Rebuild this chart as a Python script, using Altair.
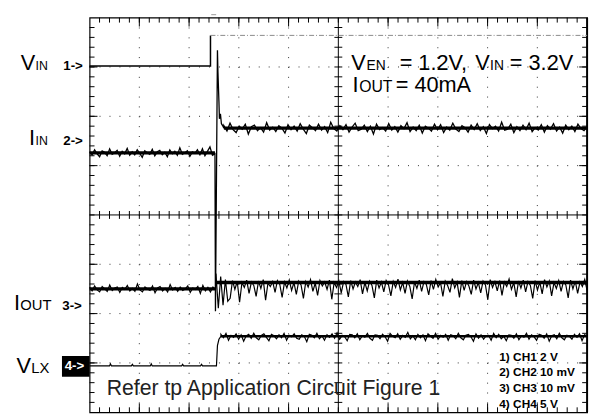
import altair as alt
import pandas as pd
import numpy as np

# ---------------- data (oscilloscope divisions: x 0..10, y 0..8) ----------------
ch1_low, ch1_high, ch1_step_x = 7.02, 7.64, 2.43

ch2_pre_base, ch2_post_base = 5.26, 5.76
ch2_pre_span = [0.0, 2.52]
ch2_post_span = [2.70, 10.0]
ch2_tr_x = [2.52, 2.53, 2.57, 2.58, 2.60, 2.61, 2.63, 2.65, 2.68, 2.70]
ch2_tr_y = [5.26, 2.05, 7.34, 6.90, 6.30, 5.95, 6.05, 5.85, 5.80, 5.76]
# noise in hundredths of a division
ch2_pre_noise = [2, -4, 6, -2, -8, 4, 1, -6, 8, -3, 0, 5, -7, 3, -2, 9, -5, 2, -4, 6, -1, -9, 4, 0, -3, 7,
                 -6, 2, 5, -4, 1, -8, 6, -2, 3, -5, 10, -3, 0, 4, -7, 2, -1, 6, -4, 8, -6, 3, 12, -5, -2]
ch2_post_noise = [5, -6, 10, -3, -9, 4, -2, 8, -12, 3, 6, -5, 1, -8, 11, -4, 2, -7, 5, 0, -10, 7, -3, 4, -6,
                  9, -2, -11, 6, 1, -5, 8, -4, 3, -9, 12, -1, -6, 5, -3, 7, -8, 2, 10, -5, -2, 6, -7, 4, -12,
                  8, -3, 1, -6, 9, -4, 3, -8, 5, -1, 11, -7, 2, -5, 6, -10, 4, 0, -6, 8, -3, 7, -9, 2, -4, 10,
                  -2, -7, 5, 1, -8, 6, -3, 9, -5, 3, -11, 7, -1, 4, -6, 12, -4, -2, 8, -9, 3, -5, 6, -3, 10,
                  -7, 1, -4, 7, -8, 5, -2, 9, -6, 2, -10, 6, -3, 4, -7, 8, -1, -5, 3]

ch3_pre_base, ch3_post_base = 2.50, 2.61
ch3_pre_span = [0.0, 2.53]
ch3_post_span = [2.54, 10.0]
ch3_pre_noise = [3, -4, 6, -2, -6, 5, 0, -5, 8, -3, 2, 4, -7, 3, -1, 7, -4, 1, -5, 10, -2, -6, 4, 0, -3, 6,
                 -8, 2, 5, -4, 1, -6, 9, -2, 3, -5, 4, -3, 0, 6, -7, 2, -1, 5, -9, 7, -4, 3, -6, 4, -2]
ch3_post_noise = [20, -50, 14, -44, 8, -36, -30, 6, -12, 4, -38, 2, -8, 7, -20, 3, -4, -26, 5, -10, 8, -34,
                  1, -6, 4, -18, 6, -2, -28, 3, -9, 7, -14, 2, -22, 5, -3, -30, 4, -7, 8, -16, 1, -24, 6, -5,
                  3, -12, 7, -32, 2, -8, 5, -19, 4, -2, -27, 6, -11, 3, -6, 8, -21, 2, -15, 5, -4, -29, 7, -9,
                  3, -17, 6, -3, -25, 4, -8, 9, -13, 2, -20, 5, -6, -31, 3, -10, 7, -16, 4, -2, -23, 6, -12, 8,
                  -7, 2, -26, 5, -4, -18, 10, -9, 3, -28, 6, -14, 4, -5, -22, 7, -11, 2, -19, 5, -3, -33, 8,
                  -8, 4, -15, 6, -24, 3, -6, 9, -12, 2, -27, 5, -9, 7, -17, 4, -4, -30, 6, -13, 3, -21, 8, -7,
                  5, -25, 2, -10, 6, -16, 4, -3, -29, 7, -11, 5, -20, 3, -6, 8, -14]

ch4_pre_base, ch4_post_base = 0.94, 1.54
ch4_pre_x = [0.0, 0.40, 0.42, 0.44, 0.84, 0.86, 0.88, 1.22, 1.24, 1.26, 1.85, 1.87, 1.89, 2.23, 2.25, 2.27, 2.55]
ch4_pre_bump = [0, 0, 4, 0, 0, 3, 0, 0, 4, 0, 0, 3, 0, 0, 3, 0, 0]
ch4_tr_x = [2.55, 2.57, 2.60, 2.64]
ch4_tr_y = [0.94, 1.35, 1.48, 1.54]
ch4_post_span = [2.64, 10.0]
ch4_post_noise = [4, -3, 6, -8, 2, -2, 5, -6, 3, -10, 1, 4, -4, 6, -3, -7, 2, 5, -2, -9, 4, 1, -5, 3, -3, 6,
                  -8, 2, -1, 5, -4, -6, 3, 0, -11, 4, 2, -3, 6, -5, 1, -8, 3, -2, 5, -4, 7, -6, 2, -1, -9, 4,
                  3, -3, 5, -7, 1, -2, 6, -4, -8, 3, 2, -5, 4, -1, -10, 6, 0, -3, 5, -6, 2, -2, 8, -5, 1, -7,
                  4, -3, 3, -9, 5, 0, -4, 6, -6, 2, -2, 4, -8, 3, 1, -5, 6, -3, -7, 2, 4, -1, -10, 5, -4, 3,
                  -6, 1, 2, -8, 6, -3, 4, -5, 0, -9, 3, 2, -4, 5, -7, 1, -2, 6, -6, 3, -1, -8, 4, 2, -4, 5,
                  -10, 1, 3, -5, 6, -3, -7, 2, 0, -6, 4, -2, 5, -9, 3, 1]

# ---------------- layout ----------------
W, H = 504.3, 400.0
LEFT, TOP = 90.7, 15.0   # page position of the plot origin
FONT = "Liberation Sans"

XS = alt.Scale(domain=[0, 10], nice=False, zero=False)
YS = alt.Scale(domain=[0, 8], nice=False, zero=False)


def seg(span, base, noise):
    xs = np.linspace(span[0], span[1], len(noise))
    return list(xs), [base + n / 100.0 for n in noise]


def line_df(xs, ys):
    return pd.DataFrame({"x": xs, "y": ys, "i": range(len(xs))})


def trace(df, color="black", width=1.3, dash=None):
    kw = dict(color=color, strokeWidth=width, strokeJoin="miter")
    if dash:
        kw["strokeDash"] = dash
    return alt.Chart(df).mark_line(**kw).encode(
        x=alt.X("x:Q", scale=XS, axis=None),
        y=alt.Y("y:Q", scale=YS, axis=None),
        order="i:Q",
    )


def band(span, base, width=3.2):
    return trace(line_df(list(span), [base, base]), width=width)


# CH1
ch1_a = line_df([0, ch1_step_x, ch1_step_x], [ch1_low, ch1_low, ch1_high])
ch1_b = line_df([ch1_step_x, 10], [ch1_high, ch1_high])
# CH2
x1, y1 = seg(ch2_pre_span, ch2_pre_base, ch2_pre_noise)
x2, y2 = seg(ch2_post_span, ch2_post_base, ch2_post_noise)
ch2 = line_df(x1 + ch2_tr_x + x2, y1 + ch2_tr_y + y2)
# CH3
x1, y1 = seg(ch3_pre_span, ch3_pre_base, ch3_pre_noise)
x2, y2 = seg(ch3_post_span, ch3_post_base, ch3_post_noise)
ch3 = line_df(x1 + x2, y1 + y2)
# CH4
x2, y2 = seg(ch4_post_span, ch4_post_base, ch4_post_noise)
ch4 = line_df(ch4_pre_x + ch4_tr_x + x2,
              [ch4_pre_base + b / 100.0 for b in ch4_pre_bump] + ch4_tr_y + y2)

# ---------------- graticule ----------------
x_minor = pd.DataFrame({"v": np.round(np.arange(1, 50) * 0.2, 3)})
y_minor = pd.DataFrame({"v": np.round(np.arange(1, 40) * 0.2, 3)})
x_major = pd.DataFrame({"v": [1, 2, 3, 4, 6, 7, 8, 9]})
y_major = pd.DataFrame({"v": [1, 2, 3, 5, 6, 7]})


def hrules(df, x0, x1, color="black", width=1, **kw):
    return alt.Chart(df).mark_rule(color=color, strokeWidth=width, **kw).encode(
        y=alt.Y("v:Q", scale=YS, axis=None), x=alt.value(x0), x2=alt.value(x1))


def vrules(df, y0, y1, color="black", width=1, **kw):
    return alt.Chart(df).mark_rule(color=color, strokeWidth=width, **kw).encode(
        x=alt.X("v:Q", scale=XS, axis=None), y=alt.value(y0), y2=alt.value(y1))


cx, cy = W / 2, H / 2
grid = [
    vrules(x_major, 0, H, color="#333", strokeDash=[1, 9]),
    hrules(y_major, 0, W, color="#333", strokeDash=[1, W / 50 - 1]),
    vrules(pd.DataFrame({"v": [5]}), 0, H),
    hrules(pd.DataFrame({"v": [4]}), 0, W),
    hrules(y_minor, cx - 4, cx + 4),
    vrules(x_minor, cy - 4, cy + 4),
    hrules(y_minor, 0, 5), hrules(y_minor, W - 5, W),
    vrules(x_minor, 0, 5), vrules(x_minor, H - 5, H),
    hrules(y_major, 0, 8), hrules(y_major, W - 8, W),
    vrules(x_major, 0, 9), vrules(x_major, H - 9, H),
    vrules(pd.DataFrame({"v": [10]}), 0, H, width=2),
]

# ---------------- text (page pixel positions of left/baseline) ----------------
normal_labels = [
    ("V", 21.0, 68.3, 22), ("IN", 36.0, 68.3, 12.5),
    ("I", 29.3, 144.5, 22), ("IN", 36.0, 144.5, 12.5),
    ("I", 14.0, 311.0, 22), ("OUT", 20.5, 311.0, 15),
    ("V", 16.5, 375.7, 22), ("LX", 31.5, 375.7, 15),
    ("V", 356.0, 67.7, 22), ("EN", 371.5, 67.7, 14), ("= 1.2V,", 405.0, 67.7, 22),
    ("V", 481.7, 67.7, 22), ("IN", 496.7, 67.7, 14), ("= 3.2V", 516.7, 67.7, 22),
    ("I", 357.3, 90.0, 22), ("OUT", 364.0, 90.0, 16), ("= 40mA", 401.0, 90.0, 22),
]
grey_labels = [("Refer tp Application Circuit Figure 1", 108.0, 397.0, 21.5)]
bold_labels = [
    ("1->", 64.0, 68.0, 13.5), ("2->", 64.0, 144.5, 13.5), ("3->", 63.0, 311.5, 13.5),
    ("1) CH1 2 V", 506.0, 363.0, 12), ("2) CH2 10 mV", 506.0, 378.5, 12),
    ("3) CH3 10 mV", 506.0, 394.5, 12), ("4) CH4 5 V", 506.0, 410.5, 12),
]
white_labels = [("4->", 65.5, 372.5, 13.5)]


def text_layer(rows, weight, color):
    df = pd.DataFrame(rows, columns=["t", "px", "py", "fs"])
    df["px"] = df["px"] - LEFT
    df["py"] = df["py"] - TOP
    return alt.Chart(df).mark_text(align="left", baseline="alphabetic", font=FONT,
                                   fontWeight=weight, color=color).encode(
        x=alt.X("px:Q", scale=None, axis=None),
        y=alt.Y("py:Q", scale=None, axis=None),
        size=alt.Size("fs:Q", scale=None, legend=None),
        text="t:N",
    )


box = alt.Chart(pd.DataFrame({"a": [0]})).mark_rect(color="black").encode(
    x=alt.value(62.7 - LEFT), x2=alt.value(0), y=alt.value(358 - TOP), y2=alt.value(379 - TOP))

trig = alt.Chart(pd.DataFrame({"a": [0]})).mark_rule(color="#999", strokeWidth=1).encode(
    x=alt.value(214 - LEFT), x2=alt.value(219 - LEFT), y=alt.value(-3))

layers = grid + [
    trace(ch1_a, width=1.5), trace(ch1_b, color="#8a8a8a", width=1, dash=[5, 2, 1, 2]),
    band(ch2_pre_span, ch2_pre_base), band(ch2_post_span, ch2_post_base),
    band(ch3_pre_span, ch3_pre_base), band(ch3_post_span, ch3_post_base + 0.02, width=3.6),
    band(ch4_post_span, ch4_post_base, width=2.5),
    trace(ch2, width=1.3), trace(ch3, width=1.2), trace(ch4, width=1.2),
    box, trig,
    text_layer(normal_labels, "normal", "black"),
    text_layer(grey_labels, "normal", "#222"),
    text_layer(bold_labels, "bold", "black"),
    text_layer(white_labels, "bold", "white"),
]

chart = alt.layer(*layers).resolve_scale(x="independent", y="independent").properties(
    width=W, height=H,
    padding={"left": LEFT - 8, "top": TOP - 8, "right": 7, "bottom": 0},
    autosize=alt.AutoSizeParams(type="none"),
    background="white",
).configure_view(stroke="black", strokeWidth=1.2)

chart.save("out.html", embed_options={"renderer": "svg", "actions": False})
